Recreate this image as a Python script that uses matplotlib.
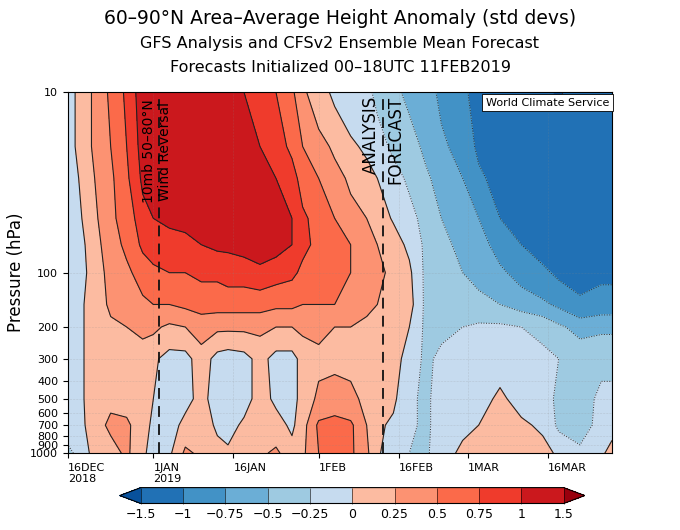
import numpy as np
import matplotlib
matplotlib.use("Agg")
import matplotlib.pyplot as plt
from matplotlib.colors import ListedColormap, BoundaryNorm
import datetime as dt
import matplotlib.dates as mdates

start = dt.date(2018, 12, 16)
days = [0,2,5,8,11,14,16,19,22,25,28,30,33,36,39,42,44,47,50,53,56,58,61,64,67,70,74,77,81,85,89,92,96,100,102]
levels_hpa = [10,20,30,50,70,100,150,200,300,500,700,1000]
cols = [
 [-0.1,-0.1,-0.1,-0.1,-0.1,-0.1,-0.1,-0.1,-0.1,-0.1,-0.15,-0.3],
 [0.05,0.05,0.0,-0.05,-0.1,-0.1,-0.05,-0.05,-0.05,-0.05,-0.1,-0.2],
 [0.3,0.3,0.25,0.2,0.15,0.1,0.1,0.1,0.1,0.1,0.15,0.1],
 [0.55,0.5,0.45,0.45,0.4,0.35,0.3,0.2,0.15,0.2,0.3,0.15],
 [0.8,0.75,0.7,0.6,0.55,0.45,0.35,0.25,0.2,0.15,0.3,0.3],
 [1.15,1.1,1.05,0.9,0.8,0.6,0.45,0.3,0.15,0.15,0.1,0.05],
 [1.3,1.3,1.15,1.0,0.85,0.7,0.5,0.3,0.05,0.0,-0.05,-0.1],
 [1.35,1.3,1.2,1.05,0.9,0.75,0.5,0.2,-0.1,-0.15,-0.15,-0.05],
 [1.4,1.35,1.25,1.05,0.95,0.75,0.55,0.25,-0.1,-0.1,0.1,0.3],
 [1.4,1.4,1.3,1.1,1.0,0.8,0.6,0.35,0.15,0.1,0.15,0.2],
 [1.4,1.4,1.3,1.15,1.05,0.8,0.6,0.3,-0.1,-0.15,-0.05,0.1],
 [1.35,1.4,1.35,1.2,1.05,0.85,0.6,0.3,-0.15,-0.15,-0.1,0.05],
 [1.0,1.2,1.35,1.3,1.1,0.85,0.6,0.3,-0.1,-0.1,0.05,0.05],
 [0.85,1.0,1.2,1.3,1.2,0.9,0.6,0.3,0.1,0.1,0.15,0.2],
 [0.75,0.85,1.0,1.15,1.1,0.85,0.55,0.25,-0.1,-0.05,0.1,0.3],
 [0.55,0.7,0.85,1.0,1.0,0.8,0.55,0.25,-0.1,-0.1,-0.05,0.1],
 [0.3,0.5,0.65,0.8,0.8,0.7,0.5,0.3,0.1,0.1,0.15,0.2],
 [0.1,0.35,0.5,0.65,0.7,0.65,0.5,0.3,0.2,0.3,0.55,0.5],
 [-0.05,0.2,0.35,0.5,0.6,0.6,0.5,0.25,0.2,0.35,0.6,0.55],
 [-0.15,0.05,0.2,0.35,0.5,0.5,0.4,0.25,0.2,0.3,0.55,0.55],
 [-0.2,-0.05,0.1,0.25,0.35,0.4,0.3,0.2,0.15,0.2,0.25,0.3],
 [-0.3,-0.15,0.0,0.1,0.25,0.3,0.25,0.2,0.1,0.1,0.05,0.05],
 [-0.45,-0.3,-0.15,-0.02,0.1,0.2,0.2,0.15,0.1,0.05,-0.05,-0.2],
 [-0.55,-0.4,-0.3,-0.15,-0.05,0.05,0.1,0.0,-0.1,-0.2,-0.2,-0.25],
 [-0.65,-0.55,-0.45,-0.35,-0.3,-0.3,-0.3,-0.3,-0.3,-0.3,-0.3,-0.3],
 [-0.8,-0.7,-0.6,-0.5,-0.45,-0.4,-0.35,-0.3,-0.2,-0.15,-0.15,-0.1],
 [-0.95,-0.85,-0.75,-0.6,-0.55,-0.5,-0.4,-0.25,-0.15,-0.1,-0.05,0.05],
 [-1.1,-1.05,-0.95,-0.75,-0.65,-0.55,-0.45,-0.2,-0.15,-0.1,0.0,0.1],
 [-1.2,-1.15,-1.1,-1.0,-0.85,-0.7,-0.5,-0.2,-0.1,0.05,0.15,0.2],
 [-1.25,-1.25,-1.2,-1.1,-1.0,-0.85,-0.6,-0.25,-0.15,-0.1,0.05,0.1],
 [-1.4,-1.3,-1.25,-1.2,-1.1,-0.95,-0.7,-0.3,-0.2,-0.15,-0.05,0.1],
 [-1.55,-1.3,-1.25,-1.2,-1.15,-1.05,-0.8,-0.45,-0.25,-0.3,-0.3,-0.05],
 [-1.3,-1.3,-1.25,-1.2,-1.15,-1.1,-0.95,-0.6,-0.3,-0.35,-0.45,-0.15],
 [-1.3,-1.3,-1.25,-1.2,-1.15,-1.05,-0.9,-0.55,-0.3,-0.2,-0.1,-0.05],
 [-1.3,-1.3,-1.25,-1.2,-1.15,-1.05,-0.9,-0.55,-0.3,-0.2,-0.1,0.1],
]
clevs = [-1.5,-1,-0.75,-0.5,-0.25,0,0.25,0.5,0.75,1,1.5]
clev_labels = ['\u22121.5','\u22121','\u22120.75','\u22120.5','\u22120.25','0','0.25','0.5','0.75','1','1.5']
colors = ['#08519c','#2171b5','#4292c6','#6baed6','#9ecae1','#c6dbef',
          '#fcbba1','#fc9272','#fb6a4a','#ef3b2c','#cb181d','#99000d']
tick_dates = [dt.date(2018,12,16),dt.date(2019,1,1),dt.date(2019,1,16),dt.date(2019,2,1),
              dt.date(2019,2,16),dt.date(2019,3,1),dt.date(2019,3,16)]
tick_labels = ['16DEC\n2018','1JAN\n2019','16JAN','1FEB','16FEB','1MAR','16MAR']
reversal_date = dt.date(2019,1,2)
analysis_date = dt.date(2019,2,13)

Z = np.array(cols).T
X = [mdates.date2num(start + dt.timedelta(days=d)) for d in days]

fig = plt.figure(figsize=(6.8,5.3), dpi=100)
ax = fig.add_axes([0.1, 0.145, 0.8, 0.681])
cmap = ListedColormap(colors[1:-1]); cmap.set_under(colors[0]); cmap.set_over(colors[-1])
norm = BoundaryNorm(clevs, cmap.N)
cf = ax.contourf(X, levels_hpa, Z, levels=clevs, cmap=cmap, norm=norm, extend='both')
pos = [l for l in clevs if l > 0]
neg = [l for l in clevs if l < 0]
ax.contour(X, levels_hpa, Z, levels=pos, colors='#222222', linewidths=0.8)
ax.contour(X, levels_hpa, Z, levels=[0], colors='#222222', linewidths=0.8)
ax.contour(X, levels_hpa, Z, levels=neg, colors='#333333', linewidths=0.7, linestyles=':')
ax.set_yscale('log')
ax.set_ylim(1000, 10)
yt = [10,100,200,300,400,500,600,700,800,900,1000]
ax.set_yticks(yt); ax.set_yticklabels([str(v) for v in yt], fontsize=8)
ax.minorticks_off()
ax.set_xlim(X[0], X[-1])
ax.set_xticks([mdates.date2num(d) for d in tick_dates])
ax.set_xticklabels(tick_labels, fontsize=8, ha='left')
ax.grid(True, color='#888888', linestyle=':', linewidth=0.4, alpha=0.5)
ax.set_ylabel('Pressure (hPa)', fontsize=12)
xr = mdates.date2num(reversal_date); xa = mdates.date2num(analysis_date)
ax.axvline(xr, color='#111111', ls=(0,(6,4)), lw=1.3)
ax.axvline(xa, color='#111111', ls=(0,(6,4)), lw=1.3)
ax.text(xr-0.3, 11, '10mb 50\u201380\u00b0N\nWind Reversal', rotation=90, ha='center', va='top', fontsize=10)
ax.text(xa-2.2, 10.5, 'ANALYSIS', rotation=90, ha='center', va='top', fontsize=12)
ax.text(xa+2.4, 10.5, 'FORECAST', rotation=90, ha='center', va='top', fontsize=12)
ax.text(0.995, 0.985, 'World Climate Service', transform=ax.transAxes, ha='right', va='top', fontsize=8,
        bbox=dict(facecolor='white', edgecolor='black', lw=0.6, pad=2.5))
fig.text(0.5, 0.955, '60\u201390\u00b0N Area\u2013Average Height Anomaly (std devs)', ha='center', fontsize=13.5)
fig.text(0.5, 0.91, 'GFS Analysis and CFSv2 Ensemble Mean Forecast', ha='center', fontsize=11.5)
fig.text(0.5, 0.865, 'Forecasts Initialized 00\u201318UTC 11FEB2019', ha='center', fontsize=11.5)
cax = fig.add_axes([0.176, 0.05, 0.684, 0.03])
cb = fig.colorbar(cf, cax=cax, orientation='horizontal', extendfrac=0.05, drawedges=True, spacing='uniform')
cb.set_ticks(clevs); cb.set_ticklabels(clev_labels)
cb.ax.tick_params(labelsize=9, length=0)
cb.outline.set_linewidth(0.8)
fig.savefig('out.png', dpi=100)
